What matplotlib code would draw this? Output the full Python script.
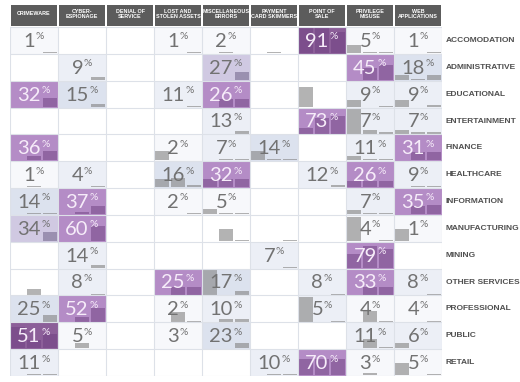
import matplotlib
matplotlib.use("Agg")
import matplotlib.pyplot as plt
from matplotlib.patches import Rectangle

columns = ["CRIMEWARE", "CYBER-\nESPIONAGE", "DENIAL OF\nSERVICE", "LOST AND\nSTOLEN ASSETS",
           "MISCELLANEOUS\nERRORS", "PAYMENT\nCARD SKIMMERS", "POINT OF\nSALE",
           "PRIVILEGE\nMISUSE", "WEB\nAPPLICATIONS"]
rows = ["ACCOMODATION", "ADMINISTRATIVE", "EDUCATIONAL", "ENTERTAINMENT", "FINANCE",
        "HEALTHCARE", "INFORMATION", "MANUFACTURING", "MINING", "OTHER SERVICES",
        "PROFESSIONAL", "PUBLIC", "RETAIL"]

N = None
# percentage per industry (row) and pattern (column)
values = [
    [1, N, N, 1, 2, N, 91, 5, 1],
    [N, 9, N, N, 27, N, N, 45, 18],
    [32, 15, N, 11, 26, N, N, 9, 9],
    [N, N, N, N, 13, N, 73, 7, 7],
    [36, N, N, 2, 7, 14, N, 11, 31],
    [1, 4, N, 16, 32, N, 12, 26, 9],
    [14, 37, N, 2, 5, N, N, 7, 35],
    [34, 60, N, N, N, N, N, 4, 1],
    [N, 14, N, N, N, 7, N, 79, N],
    [N, 8, N, 25, 17, N, 8, 33, 8],
    [25, 52, N, 2, 10, N, 5, 4, 4],
    [51, 5, N, 3, 23, N, N, 11, 6],
    [11, N, N, N, N, 10, 70, 3, 5],
]
# shade level of each cell (-1 = empty)
shade = [
    [0, -1, -1, 0, 0, -1, 5, 0, 0],
    [-1, 1, -1, -1, 3, -1, -1, 4, 2],
    [4, 2, -1, 1, 4, -1, -1, 1, 1],
    [-1, -1, -1, -1, 1, -1, 4, 1, 1],
    [4, -1, -1, 0, 1, 2, -1, 1, 4],
    [0, 1, -1, 2, 4, -1, 1, 4, 1],
    [2, 4, -1, 0, 0, -1, -1, 1, 4],
    [3, 4, -1, -1, -1, -1, -1, 0, 0],
    [-1, 1, -1, -1, -1, 1, -1, 4, -1],
    [-1, 1, -1, 4, 2, -1, 1, 4, 1],
    [2, 4, -1, 0, 1, -1, 1, 0, 0],
    [5, 0, -1, 0, 2, -1, -1, 1, 1],
    [1, -1, -1, -1, -1, 1, 4, 0, 0],
]
# three-year mini trend (share of cell height) per cell
trend = {
    (0, 0): (0, 0, 0.03), (0, 3): (0, 0, 0.03), (0, 4): (0, 0.05, 0), (0, 5): (0, 0.03, 0),
    (0, 6): (0.92, 0.95, 0.8), (0, 7): (0.3, 0.03, 0.03), (0, 8): (0, 0, 0.03),
    (1, 1): (0, 0, 0.1), (1, 4): (0, 0, 0.3), (1, 7): (0, 0.45, 0.55), (1, 8): (0.2, 0.04, 0.18),
    (2, 0): (0, 0, 0.32), (2, 1): (0, 0, 0.1), (2, 3): (0, 0, 0.04), (2, 4): (0, 0.3, 0.3),
    (2, 6): (0.75, 0, 0), (2, 7): (0.25, 0, 0.04), (2, 8): (0.25, 0, 0.05),
    (3, 4): (0, 0, 0.08), (3, 6): (0.2, 0.6, 0.65), (3, 7): (0.95, 0.12, 0.05), (3, 8): (0.15, 0.05, 0.05),
    (4, 0): (0, 0.15, 0.35), (4, 2): (0, 0.03, 0), (4, 3): (0.35, 0, 0), (4, 4): (0, 0.05, 0.05),
    (4, 5): (0.35, 0.05, 0.05), (4, 6): (0, 0.03, 0), (4, 7): (0.15, 0.05, 0.05), (4, 8): (0, 0.3, 0.3),
    (5, 0): (0, 0.03, 0), (5, 1): (0, 0, 0.03), (5, 3): (0.3, 0.35, 0.1), (5, 4): (0.3, 0.3, 0.3),
    (5, 6): (0, 0, 0.1), (5, 7): (0.25, 0.25, 0.25), (5, 8): (0, 0.05, 0.05),
    (6, 0): (0, 0.06, 0.06), (6, 1): (0, 0.08, 0.3), (6, 3): (0, 0, 0.03), (6, 4): (0.2, 0.03, 0.03),
    (6, 7): (0.15, 0.03, 0.03), (6, 8): (0, 0.3, 0.35),
    (7, 0): (0, 0, 0.35), (7, 1): (0, 0, 0.55), (7, 4): (0, 0.45, 0.03), (7, 5): (0, 0, 0.03),
    (7, 7): (0.9, 0, 0.03), (7, 8): (0.45, 0, 0),
    (8, 1): (0, 0, 0.1), (8, 5): (0, 0, 0.03), (8, 7): (0.5, 0.8, 0.7),
    (9, 0): (0, 0.2, 0), (9, 1): (0, 0, 0.03), (9, 3): (0, 0.3, 0.3), (9, 4): (0.95, 0, 0.15),
    (9, 6): (0, 0, 0.03), (9, 7): (0, 0.3, 0.3), (9, 8): (0, 0, 0.03),
    (10, 0): (0, 0, 0.25), (10, 1): (0, 0.15, 0.5), (10, 3): (0, 0.35, 0.03), (10, 4): (0, 0.08, 0.08),
    (10, 6): (0.9, 0, 0.03), (10, 7): (0, 0.4, 0.03), (10, 8): (0, 0, 0.03),
    (11, 0): (0.8, 0.3, 0.55), (11, 1): (0, 0.2, 0.03), (11, 3): (0, 0, 0.03), (11, 4): (0, 0, 0.2),
    (11, 7): (0, 0.35, 0.05), (11, 8): (0.2, 0, 0.03),
    (12, 0): (0, 0.05, 0.05), (12, 5): (0, 0.05, 0.05), (12, 6): (0.6, 0.6, 0.6),
    (12, 7): (0, 0.1, 0), (12, 8): (0.45, 0, 0.03),
}

fill_colors = {-1: "#ffffff", 0: "#f7f8fb", 1: "#eceff6", 2: "#dce2ee",
               3: "#d0c9e2", 4: "#b48cc6", 5: "#8c5f99"}

fig = plt.figure(figsize=(5.2, 3.82), dpi=100)
fig.patch.set_facecolor("white")
W, H = 520, 382
x0, x1, y0, y1 = 10, 442, 5, 376
ax = fig.add_axes([x0 / W, 1 - y1 / H, (x1 - x0) / W, (y1 - y0) / H])
nr, nc = len(rows), len(columns)
hdr = 22 / ((376 - 28) / nr)
ax.set_xlim(0, nc)
ax.set_ylim(nr, -hdr)
ax.axis("off")

# cell fills
for r in range(nr):
    for c in range(nc):
        ax.add_patch(Rectangle((c, r), 1, 1, facecolor=fill_colors[shade[r][c]],
                               edgecolor="none", zorder=1))

# mini trend bars
for (r, c), hs in trend.items():
    lvl = shade[r][c]
    if lvl >= 4:
        col, al = "#6e3f80", 0.5
    elif lvl == 3:
        col, al = "#6f6288", 0.55
    else:
        col, al = "#8a8a8a", 0.65
    xs = [c + (i + 0.5) / 3 for i in range(3)]
    ax.bar(xs, [-h for h in hs], bottom=r + 0.97, width=1 / 3 - 0.03,
           color=col, alpha=al, linewidth=0, zorder=2)

# grid lines
for c in range(nc + 1):
    ax.plot([c, c], [0, nr], color="#dde1e8", lw=0.8, zorder=3)
for r in range(nr + 1):
    ax.plot([0, nc], [r, r], color="#dde1e8", lw=0.8, zorder=3)

# header
for c, name in enumerate(columns):
    ax.add_patch(Rectangle((c + 0.015, -hdr), 0.97, hdr - 0.03, facecolor="#5c5c5c",
                           edgecolor="none", zorder=4, clip_on=False))
    ax.text(c + 0.5, -hdr * 0.6, name, ha="center", va="center", color="white",
            fontsize=3.9, fontweight="bold", family="Liberation Sans", zorder=5,
            linespacing=1.0)

# values
dw, pw = 0.23, 0.18
for r in range(nr):
    for c in range(nc):
        v = values[r][c]
        if v is None:
            continue
        tc = "#f6ecf9" if shade[r][c] >= 4 else "#727272"
        s = str(v)
        anchor = c + 0.5 + (len(s) * dw - pw) / 2
        ax.text(anchor, r + 0.74, s, ha="right", va="baseline", fontsize=14.5,
                family="Lato", fontweight="normal", color=tc, zorder=6)
        ax.text(anchor + 0.01, r + 0.46, "%", ha="left", va="baseline", fontsize=7.5,
                family="Lato", fontweight="normal", color=tc, zorder=6)

# row labels
for r, name in enumerate(rows):
    ax.text(nc + 0.08, r + 0.5, name, ha="left", va="center", fontsize=6,
            fontweight="bold", color="#505050", family="Liberation Sans", clip_on=False)

fig.savefig("out.png", dpi=100, facecolor="white")
